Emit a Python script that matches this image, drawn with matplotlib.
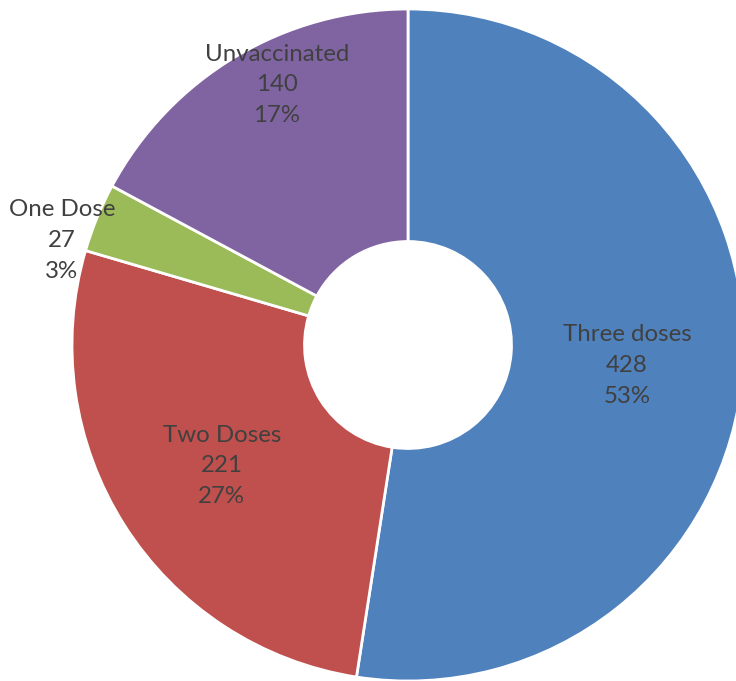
import matplotlib
matplotlib.use("Agg")
import matplotlib.pyplot as plt

categories = ["Three doses", "Two Doses", "One Dose", "Unvaccinated"]
counts = [428, 221, 27, 140]
percent_labels = ["53%", "27%", "3%", "17%"]
colors = ["#4F81BD", "#C0504D", "#9BBB59", "#8064A2"]

# label anchor points (data units, pie radius = 1)
label_xy = [(0.652, -0.060), (-0.554, -0.360), (-1.030, 0.312), (-0.390, 0.774)]

plt.rcParams["font.family"] = ["Lato", "DejaVu Sans"]

fig = plt.figure(figsize=(7.36, 6.81), dpi=100)
ax = fig.add_axes([0, 0, 1, 1])

hole = 0.308
ax.pie(
    counts,
    colors=colors,
    startangle=90,
    counterclock=False,
    radius=1.0,
    wedgeprops=dict(width=1.0 - hole, edgecolor="white", linewidth=2.0),
)

for name, val, pct, (x, y) in zip(categories, counts, percent_labels, label_xy):
    ax.text(x, y, f"{name}\n{val}\n{pct}", ha="center", va="center",
            fontsize=17.3, color="#404040", linespacing=1.58)

ax.set_aspect("auto")
ax.set_xlim(-408 / 336, 328 / 336)
ax.set_ylim(-336 / 336, 345 / 336)
ax.axis("off")

fig.savefig("out.png", dpi=100, facecolor="white")
